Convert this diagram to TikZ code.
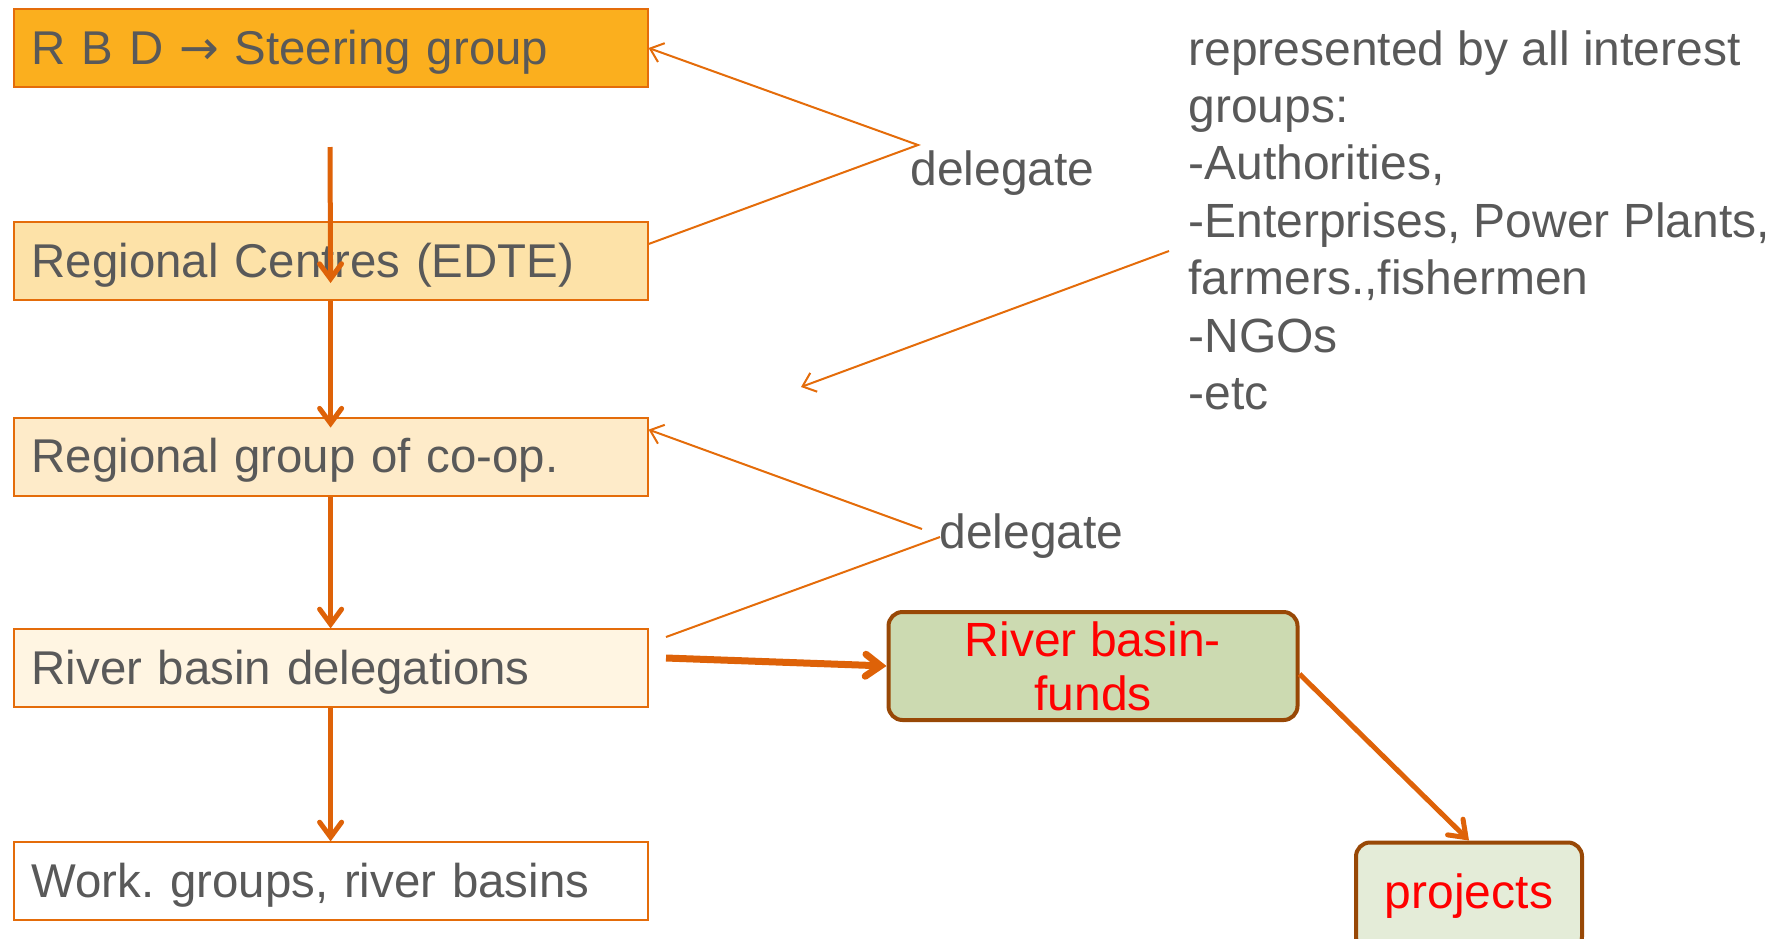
\documentclass[tikz,border=0pt]{standalone}
\usepackage{fontspec}
\setmainfont{Liberation Sans}
\newfontfamily\flechas{DejaVu Sans}
\usetikzlibrary{positioning, arrows.meta}
\definecolor{naranja}{RGB}{228,108,10}
\definecolor{flechanar}{RGB}{222,98,8}
\definecolor{gris}{RGB}{89,89,89}
\definecolor{marron}{RGB}{152,72,6}
\definecolor{fondo1}{RGB}{251,175,30}
\definecolor{fondo2}{RGB}{253,226,168}
\definecolor{fondo3}{RGB}{254,235,201}
\definecolor{fondo4}{RGB}{255,245,226}
\definecolor{verde1}{RGB}{204,218,177}
\definecolor{verde2}{RGB}{228,236,216}
\tikzstyle{caja} = [draw=naranja, line width=1pt, rectangle, text width=299pt, inner xsep=9pt, minimum height=39pt, text height=21pt, text depth=5pt, align=left, text=gris, font=\fontsize{23.7}{28.7}\selectfont]
\tikzstyle{fondos} = [draw=marron, line width=2pt, rectangle, rounded corners=7pt, text=red, align=center, inner sep=0pt, font=\fontsize{24}{27}\selectfont]
\tikzstyle{etiqueta} = [text=gris, inner sep=0pt, font=\fontsize{24}{28.7}\selectfont]
\tikzstyle{flecha} = [draw=flechanar, line width=2.5pt, -{Straight Barb[length=7.5pt,width=11pt,line cap=round]}]
\tikzstyle{delega} = [draw=naranja, line width=1pt]

\begin{document}
\frenchspacing
\begin{tikzpicture}[x=0.5pt, y=-0.5pt]
	\useasboundingbox (0,0) rectangle (1777,938);
	\node[caja, fill=fondo1, anchor=north west] (rbd) at (12.6,8) {R B D {\flechas →} Steering group};
	\node[caja, fill=fondo2, below=66.5pt of rbd] (centres) {Regional Centres (EDTE)};
	\node[caja, fill=fondo3, below=57.8pt of centres] (coop) {Regional group of co-op.};
	\node[caja, fill=fondo4, below=65.9pt of coop] (delegations) {River basin delegations};
	\node[caja, fill=white, below=66.5pt of delegations] (workgroups) {Work. groups, river basins};
	\node[fondos, fill=verde1, minimum width=204.5pt, minimum height=54pt] (funds) at (1093,666) {River basin-\\funds};
	\node[fondos, fill=verde2, minimum width=113pt, minimum height=54pt] (projects) at (1469,896.5) {projects};
	\node[etiqueta, anchor=north west, align=left] (interest) at (1188,30) {represented by all interest\\groups:\\-Authorities,\\-Enterprises, Power Plants,\\farmers.,fishermen\\-NGOs\\-etc};
	\node[etiqueta, anchor=base west] (deleg1) at (910,185) {delegate};
	\node[etiqueta, anchor=base west] (deleg2) at (939,548) {delegate};

	\coordinate (c1) at (330,147);
	\draw[flecha] (c1) -- ([yshift=9pt]centres.south);
	\draw[flecha] (centres.south) -- ([yshift=-5.5pt]coop.north);
	\draw[flecha] (coop.south) -- (delegations.north);
	\draw[flecha] (delegations.south) -- (workgroups.north);

	\coordinate (v1) at (918,145);
	\draw[delega, {Straight Barb[length=6pt,width=10pt]}-] (rbd.east) -- (v1) -- ([yshift=-11.5pt]centres.north east);

	\coordinate (i1) at (1169,251);
	\coordinate (i2) at (801,387);
	\draw[delega, -{Straight Barb[length=6pt,width=10pt]}] (i1) -- (i2);

	\coordinate (v2) at (922,529);
	\coordinate (v3) at (940,537);
	\coordinate (v4) at (666,637);
	\draw[delega, {Straight Barb[length=6pt,width=10pt]}-] ([yshift=-6.5pt]coop.north east) -- (v2);
	\draw[delega] (v3) -- (v4);

	\coordinate (d1) at (666,658);
	\draw[flecha, line width=3.5pt] (d1) -- (funds.west);
	\draw[flecha] ([yshift=-4pt]funds.east) -- (projects.north);
\end{tikzpicture}
\end{document}
